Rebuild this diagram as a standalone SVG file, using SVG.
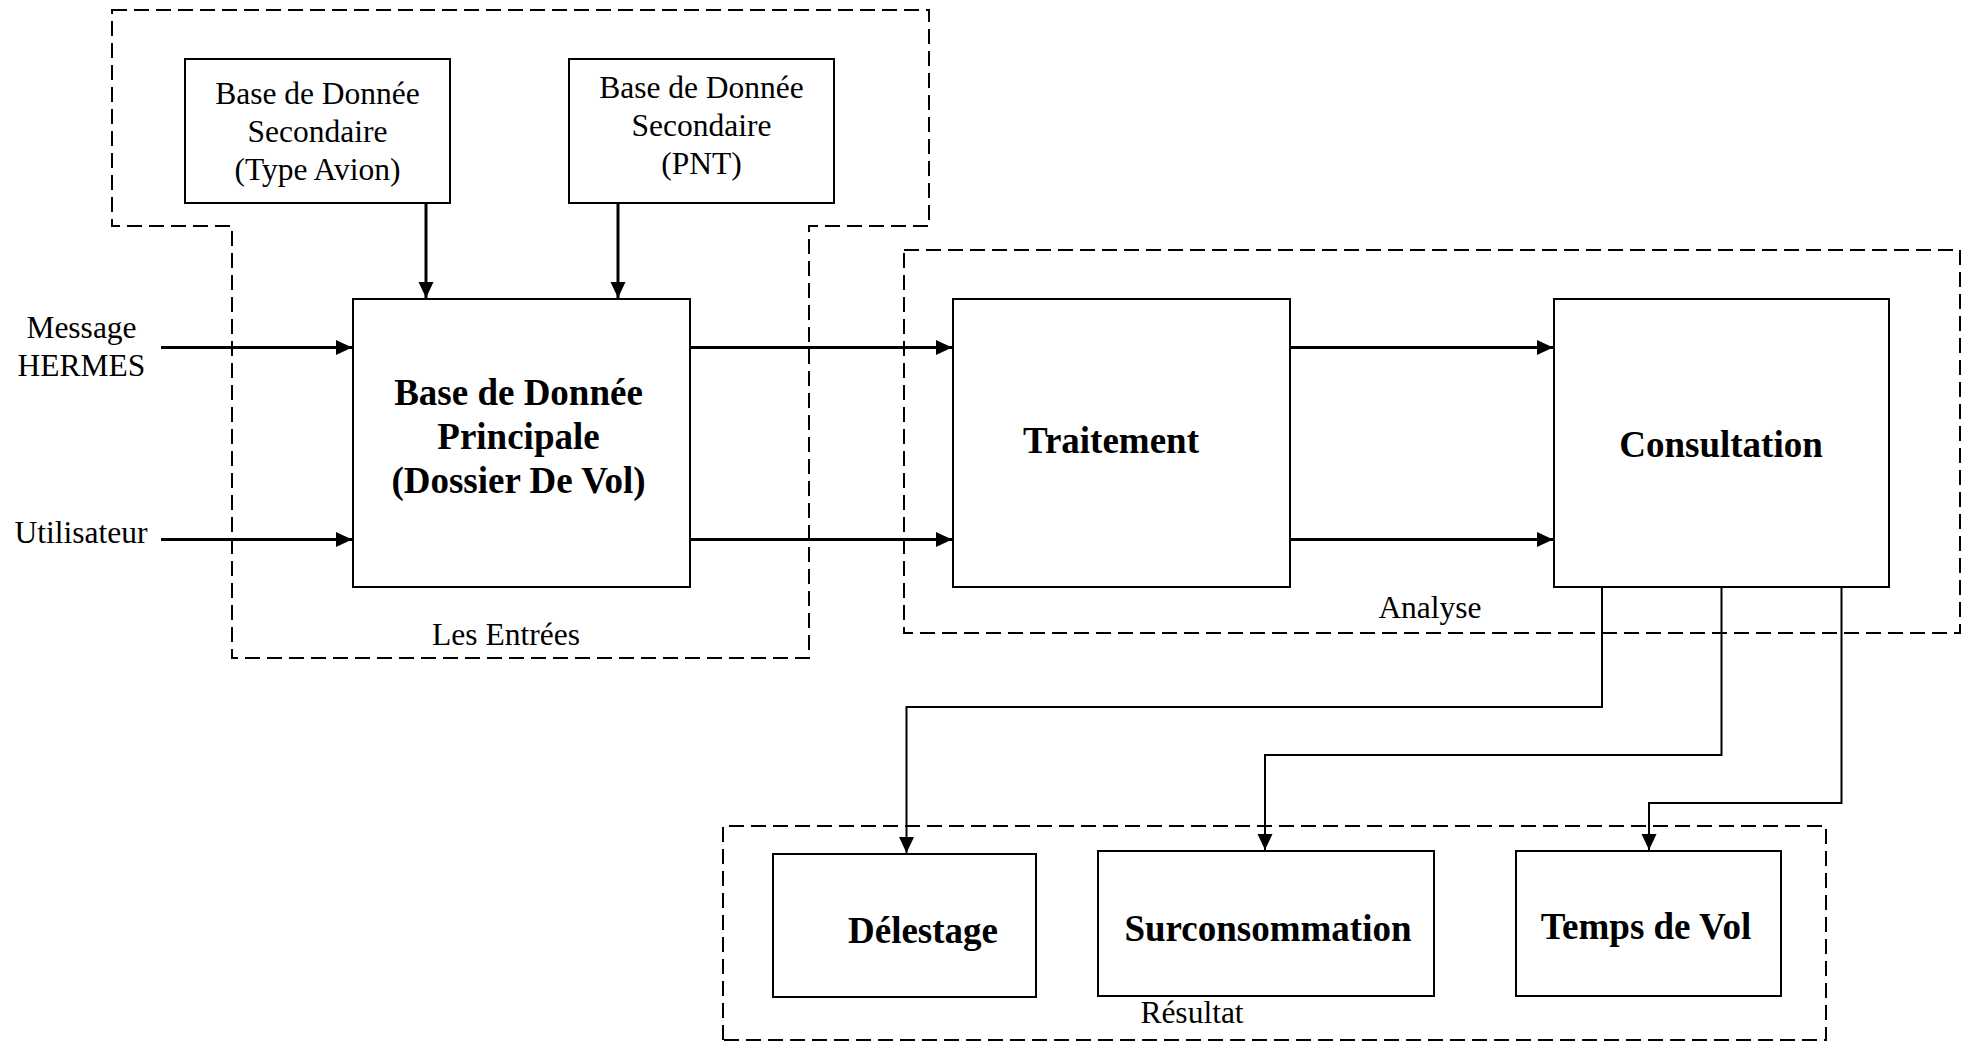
<svg xmlns="http://www.w3.org/2000/svg" width="1970" height="1042" viewBox="0 0 1970 1042">
<style>
.bx{fill:#fff;stroke:#000;stroke-width:2}
.grp{fill:none;stroke:#000;stroke-width:2;stroke-dasharray:15 7}
.t{font-family:"Liberation Serif","Times New Roman",serif;font-size:31.5px;fill:#000;text-anchor:middle}
.b{font-family:"Liberation Serif","Times New Roman",serif;font-size:37px;font-weight:bold;fill:#000;text-anchor:middle}
.c{fill:none;stroke:#000;stroke-width:3}
.cs{fill:none;stroke:#000;stroke-width:2}
</style>
<defs>
<marker id="ah" markerUnits="userSpaceOnUse" markerWidth="17" markerHeight="16" refX="16" refY="7.5" orient="auto">
<path d="M0,0 L16,7.5 L0,15 Z" fill="#000"/>
</marker>
</defs>
<rect width="1970" height="1042" fill="#fff"/>

<g id="group-entrees">
<path class="grp" d="M112,10 H929 V226 H809 V658 H232 V226 H112 Z"/>
<text class="t" x="506" y="645">Les Entrées</text>
</g>
<g id="group-analyse">
<rect class="grp" x="904" y="250" width="1056" height="383"/>
<text class="t" x="1430" y="618">Analyse</text>
</g>
<g id="group-resultat">
<path class="grp" d="M723,1040 V826 H1826 V1040 Z"/>
<text class="t" x="1192" y="1023">Résultat</text>
</g>

<g id="node-typeavion">
<rect class="bx" x="185" y="59" width="265" height="144"/>
<text class="t" x="317.5" y="104">Base de Donnée</text>
<text class="t" x="317.5" y="142">Secondaire</text>
<text class="t" x="317.5" y="180">(Type Avion)</text>
</g>
<g id="node-pnt">
<rect class="bx" x="569" y="59" width="265" height="144"/>
<text class="t" x="701.5" y="98">Base de Donnée</text>
<text class="t" x="701.5" y="136">Secondaire</text>
<text class="t" x="701.5" y="174">(PNT)</text>
</g>
<g id="node-message">
<text class="t" x="81.5" y="338">Message</text>
<text class="t" x="81.5" y="376">HERMES</text>
</g>
<g id="node-utilisateur">
<text class="t" x="81" y="542.5">Utilisateur</text>
</g>
<g id="node-principale">
<rect class="bx" x="353" y="299" width="337" height="288"/>
<text class="b" x="518.5" y="405">Base de Donnée</text>
<text class="b" x="518.5" y="449">Principale</text>
<text class="b" x="518.5" y="493">(Dossier De Vol)</text>
</g>
<g id="node-traitement">
<rect class="bx" x="953" y="299" width="337" height="288"/>
<text class="b" x="1111" y="453">Traitement</text>
</g>
<g id="node-consultation">
<rect class="bx" x="1554" y="299" width="335" height="288"/>
<text class="b" x="1721" y="457">Consultation</text>
</g>
<g id="node-delestage">
<rect class="bx" x="773" y="854" width="263" height="143"/>
<text class="b" x="923" y="943">Délestage</text>
</g>
<g id="node-surconsommation">
<rect class="bx" x="1098" y="851" width="336" height="145"/>
<text class="b" x="1268" y="941">Surconsommation</text>
</g>
<g id="node-tempsdevol">
<rect class="bx" x="1516" y="851" width="265" height="145"/>
<text class="b" x="1646" y="939">Temps de Vol</text>
</g>

<g id="connectors">
<path class="c" d="M426,203 V298" marker-end="url(#ah)"/>
<path class="c" d="M618,203 V298" marker-end="url(#ah)"/>
<path class="c" d="M161,347.5 H352" marker-end="url(#ah)"/>
<path class="c" d="M161,539.5 H352" marker-end="url(#ah)"/>
<path class="c" d="M690,347.5 H952" marker-end="url(#ah)"/>
<path class="c" d="M690,539.5 H952" marker-end="url(#ah)"/>
<path class="c" d="M1290,347.5 H1553" marker-end="url(#ah)"/>
<path class="c" d="M1290,539.5 H1553" marker-end="url(#ah)"/>
<path class="cs" d="M1602,587 V707 H906.5 V853" marker-end="url(#ah)"/>
<path class="cs" d="M1721.5,587 V755 H1265 V850" marker-end="url(#ah)"/>
<path class="cs" d="M1841.5,587 V803 H1649 V850" marker-end="url(#ah)"/>
</g>
</svg>
